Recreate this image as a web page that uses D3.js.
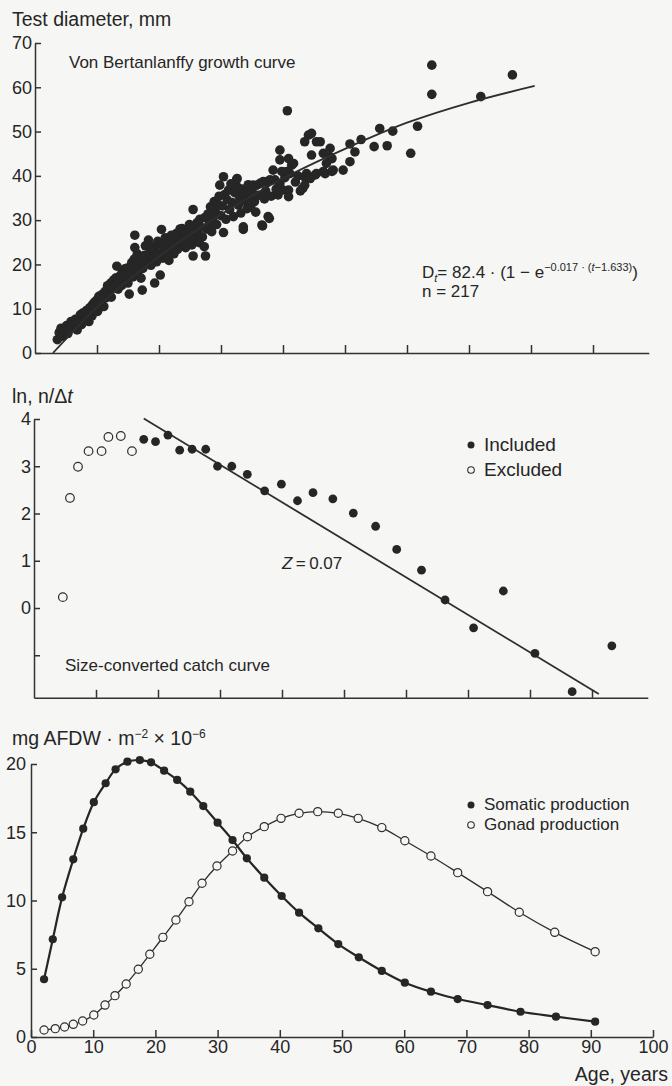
<!DOCTYPE html>
<html>
<head>
<meta charset="utf-8">
<script src="https://cdn.jsdelivr.net/npm/d3@7"></script>
<style>
  body { margin: 0; background: #f6f6f4; }
  svg { display: block; }
  text { font-family: "Liberation Sans", Arial, sans-serif; fill: #262626; }
  .axis path, .axis line { stroke: #333; stroke-width: 1.5; }
  .axis text { font-size: 18px; fill: #262626; font-family: "Liberation Sans", Arial, sans-serif; }
</style>
</head>
<body>
<script>
// ---- panel 1: test diameter vs age (age, diameter pairs)
var growthDots = [
  [3.6,3.0],[3.9,4.6],[4.2,5.6],[4.5,3.8],[4.8,5.0],[5.1,6.2],[5.3,4.4],[5.6,5.4],[5.8,7.1],[6.0,5.9],[6.3,6.3],[6.5,7.6],[6.8,5.2],[7.0,6.8],
  [7.1,7.8],[7.3,8.6],[7.5,6.4],[7.7,9.0],[7.9,7.3],[8.1,8.0],[8.3,9.6],[8.5,8.2],[8.7,7.1],[8.8,10.2],[9.0,9.0],[9.2,8.4],[9.3,11.0],[9.5,9.8],[9.6,11.5],[9.8,10.4],[10.0,12.0],[10.1,9.4],[10.3,12.8],[10.5,10.8],
  [10.6,11.7],[10.8,13.2],[10.9,12.1],[11.1,10.5],[11.3,13.9],[11.5,12.5],[11.7,15.2],[11.8,14.0],[12.0,13.0],[12.2,15.8],[12.3,12.6],[12.5,14.8],[12.7,16.5],[12.9,15.4],[13.1,17.0],[13.2,19.6],[13.4,14.4],[13.6,16.0],[13.8,17.6],[14.0,15.3],[14.1,18.2],[14.3,16.8],
  [14.5,19.0],[14.7,17.4],[14.9,19.2],[15.0,15.8],[15.2,13.3],[15.4,18.4],[15.6,20.4],[15.8,17.2],[16.0,21.2],[16.1,23.8],[16.1,26.6],[16.3,19.8],[16.5,22.4],[16.7,18.6],[16.9,20.8],[17.1,16.9],[17.3,14.2],[17.4,19.1],[17.6,22.0],[17.8,24.2],[18.0,20.5],[18.3,25.5],
  [18.5,22.6],[18.7,19.8],[18.9,21.7],[19.1,24.0],[19.3,15.8],[19.4,23.0],[19.6,20.6],[19.8,25.2],[20.0,22.3],[20.2,17.6],[20.3,24.6],[20.4,27.9],[20.6,21.4],[20.8,23.5],[21.0,26.0],[21.2,22.8],[21.4,24.9],[21.6,20.9],[21.8,23.8],[22.0,26.6],[22.2,25.0],[22.4,22.4],
  [22.6,24.2],[22.8,27.0],[23.0,23.4],[23.2,25.6],[23.4,28.0],[23.7,28.1],[23.9,24.8],[24.1,26.6],[24.3,23.8],[24.5,27.4],[24.7,25.3],[24.9,29.0],[25.1,26.2],[25.3,24.4],[25.5,32.4],[25.5,21.9],[25.7,27.8],[25.9,25.6],[26.1,29.4],[26.3,27.0],[26.5,24.9],[26.6,30.2],
  [26.8,28.4],[27.0,26.2],[27.3,24.0],[27.5,21.9],[27.4,30.6],[27.7,28.0],[27.9,31.4],[28.1,29.2],[28.3,33.0],[28.5,27.4],[28.7,30.4],[28.9,34.2],[29.1,31.8],[29.3,29.0],[29.5,33.6],[29.7,35.4],[29.8,37.9],[30.0,31.0],[30.2,33.2],[30.4,39.8],[30.4,27.2],[30.6,35.8],[30.8,30.2],[31.0,34.6],[31.2,36.8],[31.4,32.4],
  [31.6,38.2],[31.8,34.0],[32.0,30.8],[32.2,36.2],[32.5,39.1],[32.6,37.5],[32.6,39.4],[32.8,33.4],[33.0,35.2],[33.2,31.6],[33.4,37.0],[33.6,27.9],[33.6,28.5],[33.8,34.4],[34.0,36.4],[34.2,32.6],[34.4,38.0],[34.6,35.0],[34.8,33.0],[35.0,36.8],[35.2,37.9],[35.4,34.2],[35.6,31.8],[35.8,37.9],[36.0,35.6],[36.3,38.3],
  [36.6,28.9],[36.7,28.7],[36.8,38.7],[37.0,34.8],[37.2,36.6],[37.4,38.7],[37.6,30.8],[37.8,30.4],[37.9,39.1],[38.1,35.4],[38.4,41.3],[38.7,39.1],[38.9,37.0],[39.2,35.7],[39.5,45.8],[39.5,43.6],[39.5,38.3],[39.8,41.0],[40.0,36.8],[40.3,39.6],[40.6,41.0],[40.7,54.7],[40.9,43.9],[40.9,36.8],[40.9,35.3],[41.1,40.5],
  [41.4,42.4],[41.7,42.8],[42.0,38.6],[42.4,40.0],[42.8,36.6],[43.2,37.2],[43.5,47.7],[43.5,39.8],[43.5,37.9],[43.8,40.5],[44.1,49.2],[44.4,39.4],[44.6,44.7],[44.6,49.6],[45.2,40.2],[45.4,47.7],[45.4,40.5],[46.0,47.7],[46.5,41.0],[46.5,45.1],[46.8,40.5],[47.0,42.8],[47.6,46.2],[47.6,44.3],[47.9,41.0],[47.9,43.9],
  [48.1,41.3],[49.7,41.3],[50.8,43.2],[50.8,47.2],[51.6,45.4],[52.6,48.2],[54.7,46.6],[55.6,50.7],[56.8,46.8],[57.7,50.1],[60.6,45.1],[61.7,51.2],[64.0,65.0],[64.0,58.4],[71.9,57.9],[77.0,62.8]
];
// fitted von Bertalanffy curve
var curveAge = [2.9, 10, 20, 30, 40, 50, 60, 70, 80.6];
var curveDiam = [0, 10.3, 21.8, 31.3, 39.4, 46.1, 52.0, 56.5, 60.3];
var diamTicks = [0, 10, 20, 30, 40, 50, 60, 70];

// ---- panel 2: size-converted catch curve
var excludedAge = [4.65, 5.8, 7.1, 8.8, 10.9, 12.0, 14.0, 15.8];
var excludedLn = [0.23, 2.33, 2.99, 3.32, 3.32, 3.62, 3.64, 3.32];
var includedAge = [17.7, 19.6, 21.6, 23.5, 25.5, 27.7, 29.6, 31.9, 34.4, 37.2, 39.9, 42.5, 45.0, 48.2, 51.5, 55.1, 58.5, 62.5, 66.3, 70.9, 75.7, 80.8, 86.8, 93.2];
var includedLn = [3.57, 3.52, 3.66, 3.34, 3.36, 3.36, 3.0, 3.0, 2.83, 2.48, 2.62, 2.27, 2.44, 2.31, 2.01, 1.73, 1.24, 0.80, 0.17, -0.42, 0.36, -0.96, -1.77, -0.80];
var regAge = [17.7, 91.1];
var regLn = [4.01, -1.82];
var lnTicks = [4, 3, 2, 1, 0, -1];

// ---- panel 3: production
var somaticAge = [2.1, 3.5, 5.0, 6.8, 8.4, 10.1, 12.0, 13.6, 15.5, 17.5, 19.3, 21.4, 23.5, 25.6, 27.7, 30.0, 32.4, 34.7, 37.5, 40.3, 43.1, 46.2, 49.4, 52.7, 56.4, 60.1, 64.3, 68.6, 73.4, 78.7, 84.4, 90.7];
var somaticProd = [4.23, 7.16, 10.23, 13.02, 15.26, 17.2, 18.59, 19.61, 20.17, 20.29, 20.12, 19.51, 18.83, 17.97, 16.92, 15.7, 14.43, 13.09, 11.67, 10.33, 9.11, 7.96, 6.81, 5.84, 4.84, 3.98, 3.32, 2.78, 2.34, 1.85, 1.49, 1.12];
var gonadAge = [2.1, 3.9, 5.4, 6.8, 8.3, 10.1, 11.9, 13.5, 15.3, 17.25, 19.1, 21.2, 23.3, 25.4, 27.5, 29.9, 32.4, 34.8, 37.5, 40.2, 43.1, 46.1, 49.4, 52.6, 56.4, 60.1, 64.3, 68.6, 73.4, 78.5, 84.2, 90.7];
var gonadProd = [0.51, 0.61, 0.73, 0.93, 1.17, 1.61, 2.34, 3.03, 3.88, 4.96, 6.06, 7.3, 8.57, 9.91, 11.26, 12.53, 13.63, 14.67, 15.41, 16.02, 16.39, 16.51, 16.39, 16.02, 15.34, 14.38, 13.26, 12.04, 10.65, 9.14, 7.67, 6.25];
var ageTicks = [10, 20, 30, 40, 50, 60, 70, 80, 90];
var ageTicksBottom = [0, 10, 20, 30, 40, 50, 60, 70, 80, 90, 100];
var prodTicks = [0, 5, 10, 15, 20];

var svgWidth = 672;
var svgHeight = 1086;
var dark = "#262626";
var bg = "#f6f6f4";

var svg = d3.select("body")
  .append("svg")
  .attr("width", svgWidth)
  .attr("height", svgHeight);

// ================= panel 1 =================
var x1 = d3.scaleLinear().domain([0, 99]).range([35, 648.8]);
var y1 = d3.scaleLinear().domain([0, 70]).range([353, 43]);

svg.append("g")
  .attr("class", "axis")
  .attr("transform", "translate(0,353)")
  .call(d3.axisBottom(x1).tickValues(ageTicks).tickSize(-8).tickSizeOuter(0).tickFormat(""));

svg.append("g")
  .attr("class", "axis")
  .attr("transform", "translate(35,0)")
  .call(d3.axisLeft(y1).tickValues(diamTicks).tickSize(-6).tickSizeOuter(0).tickPadding(3));

svg.append("g")
  .selectAll("circle")
  .data(growthDots)
  .enter()
  .append("circle")
  .attr("cx", function (d) { return x1(d[0]); })
  .attr("cy", function (d) { return y1(d[1]); })
  .attr("r", 4.8)
  .attr("fill", dark);

var growthLine = d3.line()
  .x(function (d, i) { return x1(curveAge[i]); })
  .y(function (d) { return y1(d); })
  .curve(d3.curveMonotoneX);

svg.append("path")
  .attr("d", growthLine(curveDiam))
  .attr("fill", "none")
  .attr("stroke", "#2e2e2e")
  .attr("stroke-width", 1.8);

svg.append("text")
  .attr("x", 12).attr("y", 26)
  .style("font-size", "19.5px")
  .text("Test diameter, mm");

svg.append("text")
  .attr("x", 69).attr("y", 68)
  .style("font-size", "17px")
  .text("Von Bertanlanffy growth curve");

var eq = svg.append("text")
  .attr("x", 422).attr("y", 278)
  .style("font-size", "17px");
eq.append("tspan").text("D");
eq.append("tspan").attr("dy", 4).style("font-size", "11px").style("font-style", "italic").text("t");
eq.append("tspan").attr("dy", -4).text("= 82.4 \u00b7 (1 \u2212 e");
eq.append("tspan").attr("dy", -7).style("font-size", "11px").text("\u22120.017 \u00b7 (");
eq.append("tspan").style("font-size", "11px").style("font-style", "italic").text("t");
eq.append("tspan").style("font-size", "11px").text("\u22121.633)");
eq.append("tspan").attr("dy", 7).text(")");

svg.append("text")
  .attr("x", 422).attr("y", 297)
  .style("font-size", "17px")
  .text("n  = 217");

// ================= panel 2 =================
var x2 = d3.scaleLinear().domain([0, 99]).range([34, 647.8]);
var y2 = d3.scaleLinear().domain([-1.9, 4]).range([697.8, 419]);

svg.append("g")
  .attr("class", "axis")
  .attr("transform", "translate(0,697.8)")
  .call(d3.axisBottom(x2).tickValues(ageTicks).tickSize(-8).tickSizeOuter(0).tickFormat(""));

svg.append("g")
  .attr("class", "axis")
  .attr("transform", "translate(34,0)")
  .call(d3.axisLeft(y2).tickValues(lnTicks).tickSize(-6).tickSizeOuter(0).tickPadding(3)
    .tickFormat(function (d) { return d < 0 ? "" : d; }));

var regLine = d3.line()
  .x(function (d, i) { return x2(regAge[i]); })
  .y(function (d) { return y2(d); });

svg.append("path")
  .attr("d", regLine(regLn))
  .attr("fill", "none")
  .attr("stroke", "#2e2e2e")
  .attr("stroke-width", 1.8);

svg.append("g")
  .selectAll("circle")
  .data(excludedLn)
  .enter()
  .append("circle")
  .attr("cx", function (d, i) { return x2(excludedAge[i]); })
  .attr("cy", function (d) { return y2(d); })
  .attr("r", 4.3)
  .attr("fill", bg)
  .attr("stroke", "#2e2e2e")
  .attr("stroke-width", 1.2);

svg.append("g")
  .selectAll("circle")
  .data(includedLn)
  .enter()
  .append("circle")
  .attr("cx", function (d, i) { return x2(includedAge[i]); })
  .attr("cy", function (d) { return y2(d); })
  .attr("r", 4.4)
  .attr("fill", dark);

var t2 = svg.append("text")
  .attr("x", 12).attr("y", 403)
  .style("font-size", "19.5px");
t2.append("tspan").text("ln, n/\u0394");
t2.append("tspan").style("font-style", "italic").text("t");

var z = svg.append("text")
  .attr("x", 282).attr("y", 569)
  .style("font-size", "17px");
z.append("tspan").style("font-style", "italic").text("Z");
z.append("tspan").text("\u2009=\u20090.07");

svg.append("text")
  .attr("x", 65).attr("y", 671)
  .style("font-size", "17px")
  .text("Size-converted catch curve");

// legend
svg.append("circle").attr("cx", 471).attr("cy", 445).attr("r", 3.5).attr("fill", dark);
svg.append("text").attr("x", 484).attr("y", 451).style("font-size", "19px").text("Included");
svg.append("circle").attr("cx", 471).attr("cy", 470).attr("r", 3.3)
  .attr("fill", bg).attr("stroke", "#2e2e2e").attr("stroke-width", 1.1);
svg.append("text").attr("x", 484).attr("y", 476).style("font-size", "19px").text("Excluded");

// ================= panel 3 =================
var x3 = d3.scaleLinear().domain([0, 100]).range([31, 653]);
var y3 = d3.scaleLinear().domain([0, 20]).range([1037, 764]);

svg.append("g")
  .attr("class", "axis")
  .attr("transform", "translate(0,1037)")
  .call(d3.axisBottom(x3).tickValues(ageTicksBottom).tickSize(-7).tickSizeOuter(0).tickPadding(3));

svg.append("g")
  .attr("class", "axis")
  .attr("transform", "translate(31,0)")
  .call(d3.axisLeft(y3).tickValues(prodTicks).tickSize(-6).tickSizeOuter(0).tickPadding(5));

var somaticLine = d3.line()
  .x(function (d, i) { return x3(somaticAge[i]); })
  .y(function (d) { return y3(d); })
  .curve(d3.curveCatmullRom);

var gonadLine = d3.line()
  .x(function (d, i) { return x3(gonadAge[i]); })
  .y(function (d) { return y3(d); })
  .curve(d3.curveCatmullRom);

svg.append("path")
  .attr("d", somaticLine(somaticProd))
  .attr("fill", "none")
  .attr("stroke", "#262626")
  .attr("stroke-width", 2.2);

svg.append("path")
  .attr("d", gonadLine(gonadProd))
  .attr("fill", "none")
  .attr("stroke", "#2e2e2e")
  .attr("stroke-width", 1.3);

svg.append("g")
  .selectAll("circle")
  .data(somaticProd)
  .enter()
  .append("circle")
  .attr("cx", function (d, i) { return x3(somaticAge[i]); })
  .attr("cy", function (d) { return y3(d); })
  .attr("r", 4.1)
  .attr("fill", dark);

svg.append("g")
  .selectAll("circle")
  .data(gonadProd)
  .enter()
  .append("circle")
  .attr("cx", function (d, i) { return x3(gonadAge[i]); })
  .attr("cy", function (d) { return y3(d); })
  .attr("r", 4.1)
  .attr("fill", bg)
  .attr("stroke", "#2e2e2e")
  .attr("stroke-width", 1.2);

var t3 = svg.append("text")
  .attr("x", 12).attr("y", 745)
  .style("font-size", "19.5px");
t3.append("tspan").text("mg AFDW \u00b7 m");
t3.append("tspan").attr("dy", -7).style("font-size", "12px").text("\u22122");
t3.append("tspan").attr("dy", 7).text(" \u00d7 10");
t3.append("tspan").attr("dy", -7).style("font-size", "12px").text("\u22126");

svg.append("text")
  .attr("x", 668).attr("y", 1081)
  .attr("text-anchor", "end")
  .style("font-size", "19.5px")
  .text("Age, years");

// legend
svg.append("circle").attr("cx", 471).attr("cy", 805).attr("r", 3.5).attr("fill", dark);
svg.append("text").attr("x", 484).attr("y", 810).style("font-size", "17px").text("Somatic production");
svg.append("circle").attr("cx", 471).attr("cy", 825).attr("r", 3.3)
  .attr("fill", bg).attr("stroke", "#2e2e2e").attr("stroke-width", 1.1);
svg.append("text").attr("x", 484).attr("y", 830).style("font-size", "17px").text("Gonad production");
</script>
</body>
</html>
